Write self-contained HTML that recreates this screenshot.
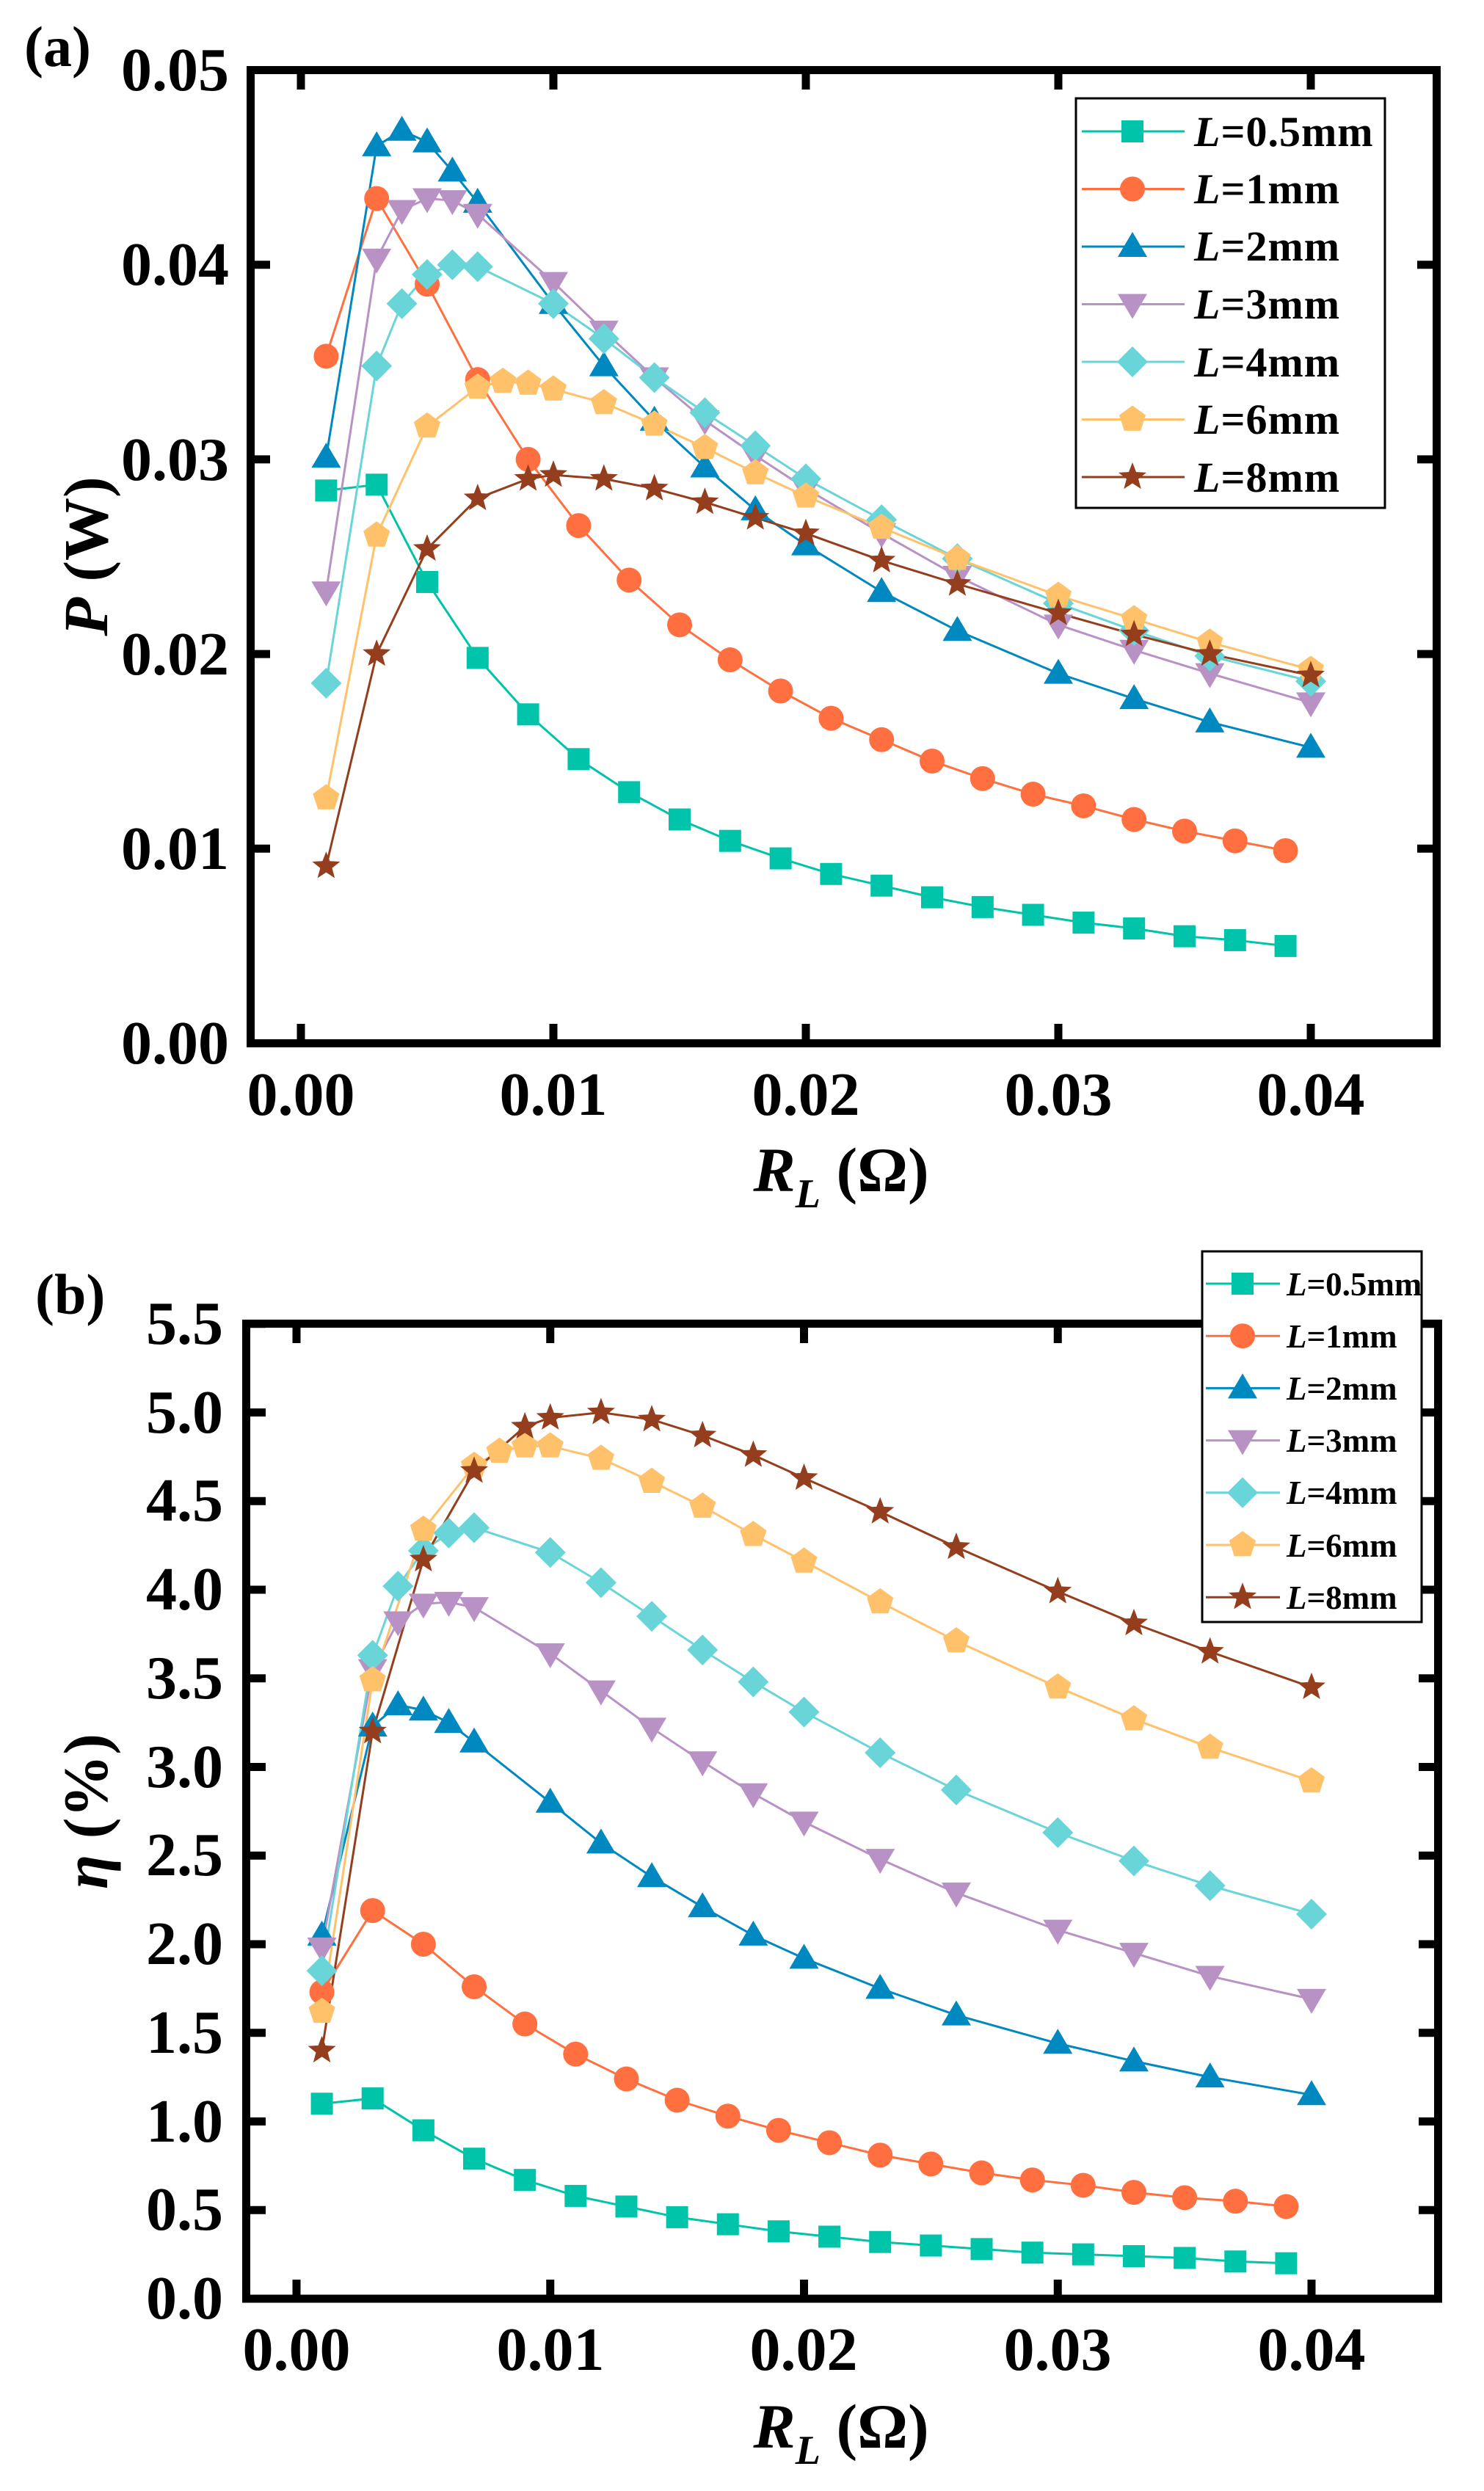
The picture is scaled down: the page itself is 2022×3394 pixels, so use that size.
<!DOCTYPE html>
<html><head><meta charset="utf-8">
<style>
html,body{margin:0;padding:0;background:#fff;}
svg{display:block;font-family:"Liberation Serif","Times New Roman","DejaVu Serif",serif;}
svg text{font-family:"Liberation Serif","Times New Roman","DejaVu Serif",serif;font-weight:bold;fill:#000;}
</style></head>
<body>
<svg id="s" width="2022" height="3394" viewBox="0 0 2022 3394" xmlns="http://www.w3.org/2000/svg" font-family="Liberation Serif, Times New Roman, DejaVu Serif, serif" font-weight="bold">
<rect width="2022" height="3394" fill="#fff"/>
<g id="plots"></g>
<rect x="341.5" y="95.5" width="1616" height="1326" fill="none" stroke="#000" stroke-width="11"/>
<rect x="335.5" y="1803.5" width="1624" height="1328.5" fill="none" stroke="#000" stroke-width="11"/>
<g id="ticks"></g>
<text x="33" y="90" font-size="78">(a)</text>
<g font-size="84" text-anchor="end">
<text x="312" y="123">0.05</text>
<text x="312" y="388">0.04</text>
<text x="312" y="654">0.03</text>
<text x="312" y="919">0.02</text>
<text x="312" y="1184">0.01</text>
<text x="312" y="1449">0.00</text>
</g>
<g font-size="84" text-anchor="middle">
<text x="410" y="1519">0.00</text>
<text x="754" y="1519">0.01</text>
<text x="1098" y="1519">0.02</text>
<text x="1442" y="1519">0.03</text>
<text x="1786" y="1519">0.04</text>
</g>
<text x="1146" y="1623" font-size="86" text-anchor="middle"><tspan font-style="italic">R</tspan><tspan font-style="italic" font-size="56" dy="22">L</tspan><tspan dy="-22"> (Ω)</tspan></text>
<text transform="translate(146,758) rotate(-90)" font-size="86" text-anchor="middle"><tspan font-style="italic">P</tspan> (W)</text>
<text x="48" y="1790" font-size="78">(b)</text>
<g font-size="84" text-anchor="end">
<text x="304" y="1831">5.5</text>
<text x="304" y="1952">5.0</text>
<text x="304" y="2072">4.5</text>
<text x="304" y="2193">4.0</text>
<text x="304" y="2314">3.5</text>
<text x="304" y="2435">3.0</text>
<text x="304" y="2555">2.5</text>
<text x="304" y="2676">2.0</text>
<text x="304" y="2797">1.5</text>
<text x="304" y="2918">1.0</text>
<text x="304" y="3038">0.5</text>
<text x="304" y="3159">0.0</text>
</g>
<g font-size="84" text-anchor="middle">
<text x="404" y="3229">0.00</text>
<text x="750" y="3229">0.01</text>
<text x="1095" y="3229">0.02</text>
<text x="1441" y="3229">0.03</text>
<text x="1787" y="3229">0.04</text>
</g>
<text x="1146" y="3335" font-size="86" text-anchor="middle"><tspan font-style="italic">R</tspan><tspan font-style="italic" font-size="56" dy="22">L</tspan><tspan dy="-22"> (Ω)</tspan></text>
<text transform="translate(146,2468) rotate(-90)" font-size="86" text-anchor="middle"><tspan font-style="italic">η</tspan> (%)</text>
<rect x="1466" y="134" width="421" height="558" fill="#fff" stroke="#000" stroke-width="3"/>
<g id="lega"></g>
<g font-size="58" letter-spacing="1">
<text x="1627" y="199"><tspan font-style="italic">L</tspan>=0.5mm</text>
<text x="1627" y="277"><tspan font-style="italic">L</tspan>=1mm</text>
<text x="1627" y="355"><tspan font-style="italic">L</tspan>=2mm</text>
<text x="1627" y="434"><tspan font-style="italic">L</tspan>=3mm</text>
<text x="1627" y="513"><tspan font-style="italic">L</tspan>=4mm</text>
<text x="1627" y="591"><tspan font-style="italic">L</tspan>=6mm</text>
<text x="1627" y="670"><tspan font-style="italic">L</tspan>=8mm</text>
</g>
<rect x="1638" y="1705" width="299" height="505" fill="#fff" stroke="#000" stroke-width="3"/>
<g id="legb"></g>
<g font-size="45">
<text x="1753" y="1765"><tspan font-style="italic">L</tspan>=0.5mm</text>
<text x="1753" y="1836"><tspan font-style="italic">L</tspan>=1mm</text>
<text x="1753" y="1907"><tspan font-style="italic">L</tspan>=2mm</text>
<text x="1753" y="1978"><tspan font-style="italic">L</tspan>=3mm</text>
<text x="1753" y="2049"><tspan font-style="italic">L</tspan>=4mm</text>
<text x="1753" y="2121"><tspan font-style="italic">L</tspan>=6mm</text>
<text x="1753" y="2192"><tspan font-style="italic">L</tspan>=8mm</text>
</g>
</svg>
<script>
var NS="http://www.w3.org/2000/svg";
function el(p,tag,attrs){var e=document.createElementNS(NS,tag);for(var k in attrs)e.setAttribute(k,attrs[k]);p.appendChild(e);return e;}
var cols=["#00c4aa","#ff6f3f","#0088c0","#b992c5","#69d5d8","#ffc26a","#943e1e"];
var shapes=["sq","ci","tu","td","di","pe","st"];
function marker(g,s,x,y,c){
 if(s=="sq")el(g,"rect",{x:x-15,y:y-15,width:30,height:30,fill:c});
 else if(s=="ci")el(g,"circle",{cx:x,cy:y,r:17,fill:c});
 else if(s=="tu")el(g,"polygon",{points:(x-20)+","+(y+14)+" "+(x+20)+","+(y+14)+" "+x+","+(y-20),fill:c});
 else if(s=="td")el(g,"polygon",{points:(x-20)+","+(y-14)+" "+(x+20)+","+(y-14)+" "+x+","+(y+20),fill:c});
 else if(s=="di")el(g,"polygon",{points:x+","+(y-21)+" "+(x+21)+","+y+" "+x+","+(y+21)+" "+(x-21)+","+y,fill:c});
 else if(s=="pe"){var p=[];for(var i=0;i<5;i++){var a=-Math.PI/2+i*2*Math.PI/5;p.push((x+19*Math.cos(a))+","+(y+19*Math.sin(a)));}el(g,"polygon",{points:p.join(" "),fill:c});}
 else if(s=="st"){var p=[];for(var i=0;i<10;i++){var a=-Math.PI/2+i*Math.PI/5,r=i%2?8.5:20;p.push((x+r*Math.cos(a))+","+(y+r*Math.sin(a)));}el(g,"polygon",{points:p.join(" "),fill:c});}
}
var xo=[0.001,0.003,0.005,0.007,0.009,0.011,0.013,0.015,0.017,0.019,0.021,0.023,0.025,0.027,0.029,0.031,0.033,0.035,0.037,0.039];
var xe=[0.001,0.003,0.004,0.005,0.006,0.007,0.010,0.012,0.014,0.016,0.018,0.020,0.023,0.026,0.030,0.033,0.036,0.040];
var x6=[0.001,0.003,0.005,0.007,0.008,0.009,0.010,0.012,0.014,0.016,0.018,0.020,0.023,0.026,0.030,0.033,0.036,0.040];
var x8=[0.001,0.003,0.005,0.007,0.009,0.010,0.012,0.014,0.016,0.018,0.020,0.023,0.026,0.030,0.033,0.036,0.040];
var XS=[xo,xo,xe,xe,xe,x6,x8];
var A=[
[0.0284,0.0287,0.0237,0.0198,0.0169,0.0146,0.0129,0.0115,0.0104,0.0095,0.0087,0.0081,0.0075,0.0070,0.0066,0.0062,0.0059,0.0055,0.0053,0.0050],
[0.0353,0.0434,0.0390,0.0341,0.0300,0.0266,0.0238,0.0215,0.0197,0.0181,0.0167,0.0156,0.0145,0.0136,0.0128,0.0122,0.0115,0.0109,0.0104,0.0099],
[0.0301,0.0461,0.0469,0.0463,0.0448,0.0432,0.0380,0.0348,0.0320,0.0296,0.0274,0.0256,0.0232,0.0212,0.0190,0.0177,0.0165,0.0152],
[0.0232,0.0403,0.0428,0.0434,0.0433,0.0426,0.0391,0.0366,0.0342,0.0320,0.0302,0.0285,0.0262,0.0240,0.0215,0.0202,0.0190,0.0175],
[0.0185,0.0348,0.0380,0.0395,0.0400,0.0399,0.0380,0.0362,0.0342,0.0324,0.0307,0.0290,0.0269,0.0249,0.0226,0.0212,0.0199,0.0186],
[0.0126,0.0261,0.0317,0.0337,0.0340,0.0339,0.0336,0.0329,0.0318,0.0306,0.0293,0.0281,0.0265,0.0249,0.0230,0.0218,0.0206,0.0192],
[0.0091,0.0200,0.0254,0.0280,0.0290,0.0292,0.0290,0.0285,0.0278,0.0270,0.0262,0.0248,0.0236,0.0221,0.0210,0.0200,0.0189]];
var B=[
[1.10,1.13,0.95,0.79,0.67,0.58,0.52,0.46,0.42,0.38,0.35,0.32,0.30,0.28,0.26,0.25,0.24,0.23,0.21,0.20],
[1.73,2.19,2.00,1.76,1.55,1.38,1.24,1.12,1.03,0.95,0.88,0.81,0.76,0.71,0.67,0.64,0.60,0.57,0.55,0.52],
[2.05,3.23,3.35,3.32,3.25,3.14,2.80,2.57,2.38,2.21,2.05,1.92,1.75,1.60,1.44,1.34,1.25,1.15],
[1.98,3.55,3.82,3.92,3.93,3.90,3.64,3.43,3.22,3.03,2.85,2.69,2.48,2.29,2.08,1.95,1.82,1.69],
[1.85,3.63,4.02,4.22,4.32,4.35,4.21,4.04,3.85,3.66,3.48,3.31,3.08,2.87,2.63,2.47,2.33,2.17],
[1.62,3.49,4.34,4.70,4.78,4.81,4.81,4.74,4.61,4.47,4.31,4.16,3.93,3.71,3.45,3.27,3.11,2.92],
[1.40,3.20,4.17,4.67,4.92,4.97,5.00,4.96,4.87,4.76,4.63,4.44,4.24,3.99,3.81,3.65,3.45]];
var g=document.getElementById("plots");
function draw(D,fx,fy){
 var lines=el(g,"g",{}),marks=el(g,"g",{});
 for(var s=0;s<7;s++){var pts=[];for(var i=0;i<D[s].length;i++){var x=fx(XS[s][i]),y=fy(D[s][i]);pts.push(x+","+y);marker(marks,shapes[s],x,y,cols[s]);}
  el(lines,"polyline",{points:pts.join(" "),fill:"none",stroke:cols[s],"stroke-width":3});}
}
draw(A,function(v){return 410+v*34400},function(v){return 1421.5-v*26520});
draw(B,function(v){return 404+v*34575},function(v){return 3132-v*241.5});
var t=document.getElementById("ticks");
function tk(x1,y1,x2,y2){el(t,"line",{x1:x1,y1:y1,x2:x2,y2:y2,stroke:"#000","stroke-width":11});}
for(var i=0;i<5;i++){var x=410+i*344;tk(x,1416,x,1395);tk(x,101,x,122);
 var xb=404+i*345.75;tk(xb,3127,xb,3106);tk(xb,1809,xb,1830);}
for(var i=0;i<6;i++){var y=1421.5-i*265.2;tk(347,y,368,y);tk(1952,y,1931,y);}
for(var i=0;i<12;i++){var y=3132-i*120.75;tk(341,y,362,y);tk(1954,y,1933,y);}
var la=document.getElementById("lega"),lb=document.getElementById("legb");
for(var s=0;s<7;s++){
 var y=179+s*78.5;el(la,"line",{x1:1474,y1:y,x2:1614,y2:y,stroke:cols[s],"stroke-width":3});marker(la,shapes[s],1543,y,cols[s]);
 var yb=1749+s*71.2;el(lb,"line",{x1:1643,y1:yb,x2:1744,y2:yb,stroke:cols[s],"stroke-width":3});marker(lb,shapes[s],1693,yb,cols[s]);
}
</script>
</body></html>
